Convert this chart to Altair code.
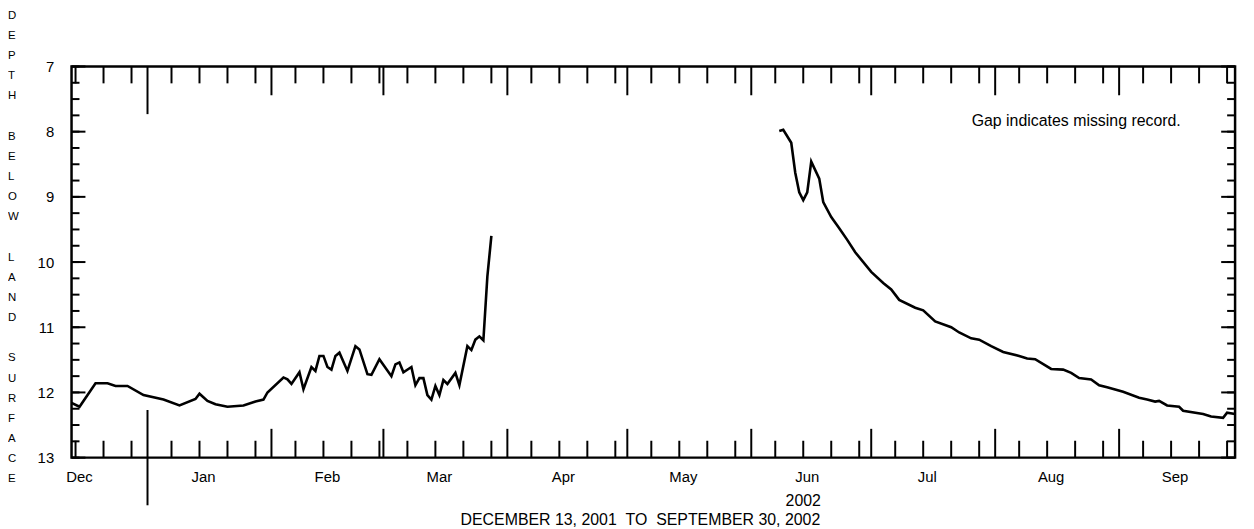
import altair as alt
import pandas as pd

FONT = "Liberation Sans"
W, H = 1172, 394
start = pd.Timestamp("2001-12-13")
end = pd.Timestamp("2002-09-30")

# Water level, depth below land surface (feet), winter/spring record
dates_a = ["2001-12-13", "2001-12-15", "2001-12-19", "2001-12-22", "2001-12-24", "2001-12-27",
           "2001-12-31", "2002-01-05", "2002-01-09", "2002-01-13", "2002-01-14", "2002-01-16",
           "2002-01-18", "2002-01-21", "2002-01-25", "2002-01-28", "2002-01-30", "2002-01-31",
           "2002-02-04", "2002-02-05", "2002-02-06", "2002-02-08", "2002-02-09", "2002-02-11",
           "2002-02-12", "2002-02-13", "2002-02-14", "2002-02-15", "2002-02-16", "2002-02-17",
           "2002-02-18", "2002-02-20", "2002-02-22", "2002-02-23", "2002-02-25", "2002-02-26",
           "2002-02-28", "2002-03-03", "2002-03-04", "2002-03-05", "2002-03-06", "2002-03-08",
           "2002-03-09", "2002-03-10", "2002-03-11", "2002-03-12", "2002-03-13", "2002-03-14",
           "2002-03-15", "2002-03-16", "2002-03-17", "2002-03-19", "2002-03-20", "2002-03-22",
           "2002-03-23", "2002-03-24", "2002-03-25", "2002-03-26", "2002-03-27", "2002-03-28"]
depth_a = [12.16, 12.22, 11.86, 11.86, 11.90, 11.90,
           12.04, 12.11, 12.20, 12.10, 12.02, 12.13,
           12.18, 12.22, 12.20, 12.14, 12.11, 12.00,
           11.77, 11.80, 11.87, 11.69, 11.95, 11.61,
           11.67, 11.44, 11.44, 11.61, 11.65, 11.44,
           11.39, 11.67, 11.29, 11.34, 11.72, 11.73,
           11.49, 11.75, 11.57, 11.54, 11.69, 11.61,
           11.89, 11.78, 11.78, 12.04, 12.11, 11.90,
           12.04, 11.81, 11.87, 11.70, 11.89, 11.29,
           11.35, 11.19, 11.14, 11.20, 10.22, 9.60]

# Summer record after the gap
dates_b = ["2002-06-08", "2002-06-09", "2002-06-11", "2002-06-12", "2002-06-13", "2002-06-14",
           "2002-06-15", "2002-06-16", "2002-06-18", "2002-06-19", "2002-06-21", "2002-06-23",
           "2002-06-25", "2002-06-27", "2002-07-01", "2002-07-04", "2002-07-06", "2002-07-08",
           "2002-07-12", "2002-07-14", "2002-07-17", "2002-07-21", "2002-07-23", "2002-07-26",
           "2002-07-28", "2002-07-31", "2002-08-03", "2002-08-07", "2002-08-09", "2002-08-11",
           "2002-08-15", "2002-08-18", "2002-08-20", "2002-08-22", "2002-08-25", "2002-08-27",
           "2002-08-29", "2002-09-02", "2002-09-06", "2002-09-08", "2002-09-10", "2002-09-11",
           "2002-09-13", "2002-09-16", "2002-09-17", "2002-09-22", "2002-09-24", "2002-09-27",
           "2002-09-28", "2002-09-30"]
depth_b = [7.99, 7.97, 8.17, 8.63, 8.93, 9.05,
           8.93, 8.46, 8.72, 9.08, 9.31, 9.48,
           9.66, 9.85, 10.15, 10.32, 10.42, 10.58,
           10.70, 10.74, 10.91, 11.00, 11.08, 11.17,
           11.19, 11.29, 11.38, 11.44, 11.48, 11.49,
           11.64, 11.65, 11.70, 11.78, 11.80, 11.89,
           11.92, 11.99, 12.08, 12.11, 12.14, 12.13,
           12.20, 12.22, 12.28, 12.33, 12.37, 12.39,
           12.31, 12.33]

month_labels = ["Dec", "Jan", "Feb", "Mar", "Apr", "May", "Jun", "Jul", "Aug", "Sep"]
month_label_dates = ["2001-12-15", "2002-01-15", "2002-02-15", "2002-03-15", "2002-04-15",
                     "2002-05-15", "2002-06-15", "2002-07-15", "2002-08-15", "2002-09-15"]
y_labels = [7, 8, 9, 10, 11, 12, 13]
y_minor = [7 + 0.25 * i for i in range(25)]


def day(s):
    return (pd.Timestamp(s) - start).days


total = day(end)
line_df = pd.concat([
    pd.DataFrame({"day": [day(d) for d in dates_a], "v": depth_a, "seg": "a"}),
    pd.DataFrame({"day": [day(d) for d in dates_b], "v": depth_b, "seg": "b"}),
])

all_days = pd.date_range(start, end)
weekly = pd.DataFrame({"day": [(d - start).days for d in all_days if d.day in (7, 14, 21, 28)]})
monthly = pd.DataFrame({"day": [(d - start).days for d in all_days if d.day == 1 and d.month != 1]})
yearly = pd.DataFrame({"day": [day("2002-01-01")]})
labels_df = pd.DataFrame({"day": [day(d) for d in month_label_dates], "label": month_labels})

xs = alt.Scale(domain=[0, total], nice=False, zero=False)
ys = alt.Scale(domain=[7, 13], reverse=True, nice=False, zero=False)
X = alt.X("day:Q", scale=xs, axis=None)
Yq = alt.Y("v:Q", scale=ys, title=None,
           axis=alt.Axis(values=y_labels, ticks=False, domain=False, grid=False,
                         labelFontSize=15, labelFont=FONT, labelColor="black", labelPadding=18))

line = alt.Chart(line_df).mark_line(color="black", strokeWidth=2.6).encode(
    X, Yq, detail="seg:N")


def xticks(df, top_len, bot_top, bot_bottom):
    top = alt.Chart(df).mark_rule(color="black", strokeWidth=2).encode(
        X, y=alt.value(0), y2=alt.value(top_len))
    bot = alt.Chart(df).mark_rule(color="black", strokeWidth=2).encode(
        X, y=alt.value(bot_top), y2=alt.value(bot_bottom))
    return top + bot


ticks = (xticks(weekly, 17, H - 17, H) + xticks(monthly, 29, H - 29, H)
         + xticks(yearly, 48, H - 48, H + 48))


def yticks(vals, ln):
    df = pd.DataFrame({"v": vals})
    left = alt.Chart(df).mark_rule(color="black", strokeWidth=2).encode(
        Yq, x=alt.value(0), x2=alt.value(ln))
    right = alt.Chart(df).mark_rule(color="black", strokeWidth=2).encode(
        Yq, x=alt.value(W - ln), x2=alt.value(W))
    return left + right


yt = yticks(y_minor, 8) + yticks(y_labels, 14)

month_text = alt.Chart(labels_df).mark_text(
    font=FONT, fontSize=15, baseline="top", color="black").encode(
    X, y=alt.value(H + 13), text="label:N")

BL = "\u2800"  # blank line holder
side_lines = list("DEPTH") + [BL] + list("BELOW") + [BL] + list("LAND") + [BL] + list("SURFACE")
extra = pd.DataFrame({
    "t": ["2002", "DECEMBER 13, 2001\u00a0\u00a0TO\u00a0\u00a0SEPTEMBER 30, 2002",
          "Gap indicates missing record."],
})


def label(i, x, y, **kw):
    return alt.Chart(extra.iloc[[i]]).mark_text(font=FONT, baseline="top", **kw).encode(
        x=alt.value(x), y=alt.value(y), text="t:N")


yr = label(0, 737, H + 36, fontSize=16)
period = label(1, 573, H + 55, fontSize=16)
gap = label(2, 1012, 47, fontSize=16)
side = alt.Chart(extra.iloc[[0]]).mark_text(
    font=FONT, fontSize=11.5, baseline="top", align="left", lineHeight=20.3,
    text=side_lines).encode(x=alt.value(-64), y=alt.value(-57))

chart = alt.layer(ticks, yt, line, month_text, yr, period, gap, side).properties(
    width=W, height=H, padding={"left": 0, "top": 0, "right": 5, "bottom": 0}
).configure_view(stroke="black", strokeWidth=2.5)

chart.save("out.html", embed_options={"renderer": "svg", "actions": False})
